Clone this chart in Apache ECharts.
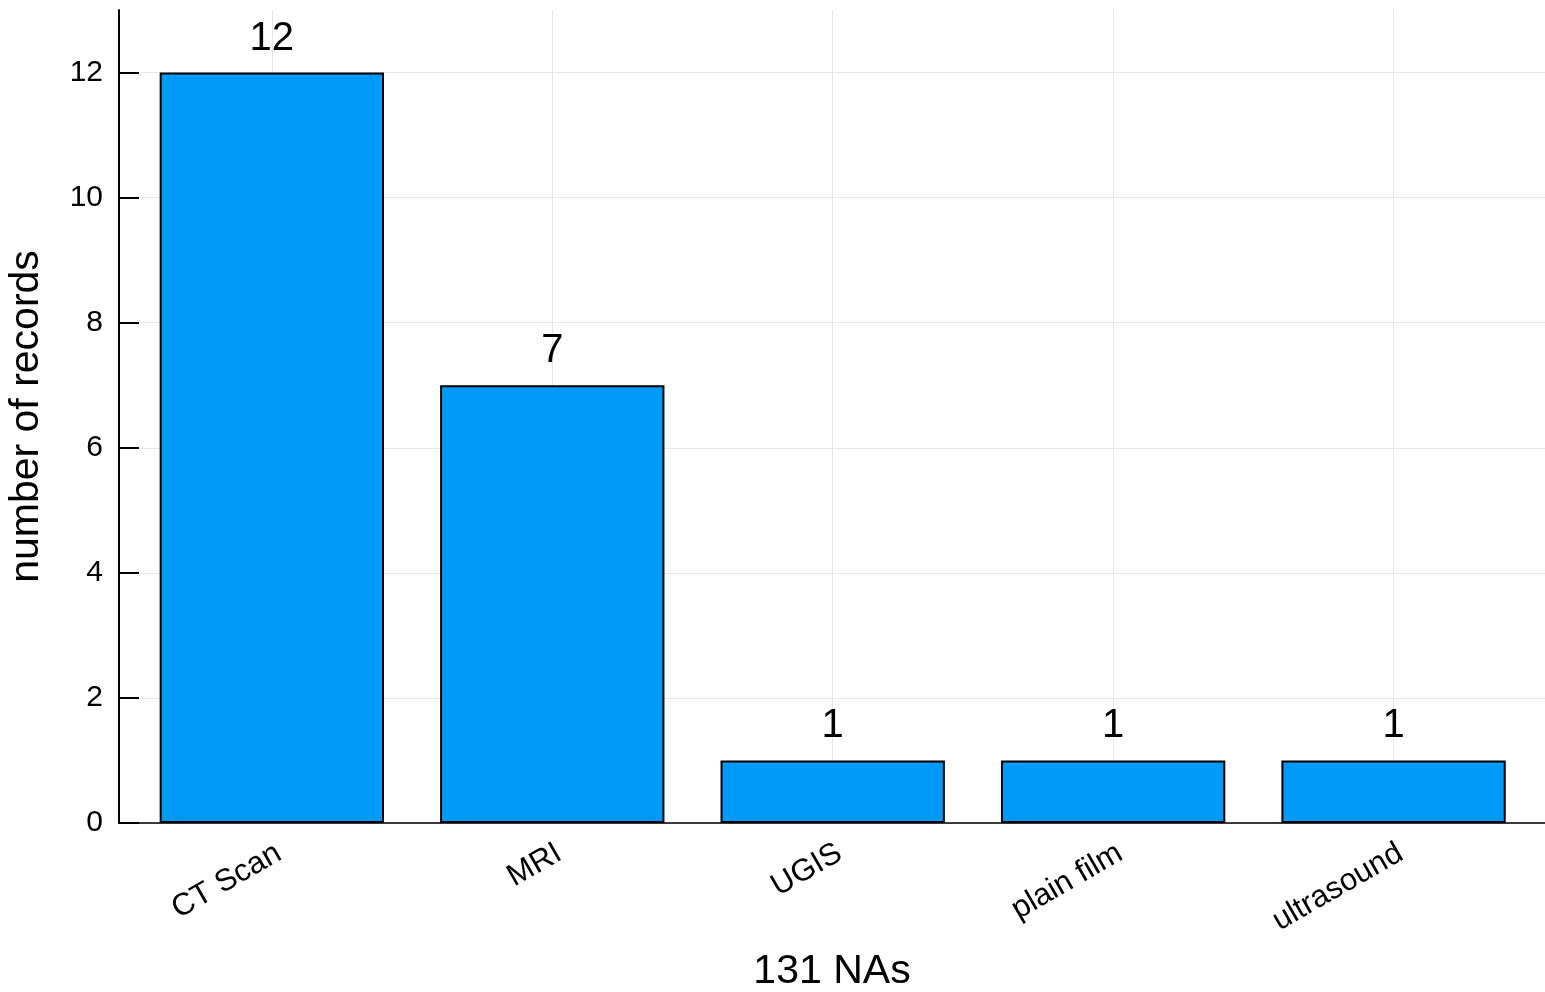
<!DOCTYPE html>
<html>
<head>
<meta charset="utf-8">
<script src="https://cdn.jsdelivr.net/npm/echarts@6/dist/echarts.min.js"></script>
<style>
html,body{margin:0;padding:0;background:#fff;}
#chart{width:1545px;height:992px;}
</style>
</head>
<body>
<div id="chart"></div>
<script>
const categories = ["CT Scan", "MRI", "UGIS", "plain film", "ultrasound"];
const counts = [12, 7, 1, 1, 1];
const yTicks = [0, 2, 4, 6, 8, 10, 12];
const xTitle = "131 NAs";
const yTitle = "number of records";

const FONT = "'Liberation Sans', Arial, Helvetica, sans-serif";
const idx = categories.map((_, i) => i);
const labelShift = 0.025;

const chart = echarts.init(document.getElementById('chart'), null, {renderer: 'canvas'});
chart.setOption({
  animation: false,
  backgroundColor: '#ffffff',
  textStyle: {fontFamily: FONT},
  grid: {left: 119, right: 0, top: 10, bottom: 169, containLabel: false, outerBoundsMode: 'none'},
  xAxis: {
    type: 'value',
    min: -0.545,
    max: 4.54,
    axisLine: {show: true, onZero: false, lineStyle: {color: '#000', width: 1.5}},
    axisTick: {show: false, customValues: idx},
    splitLine: {show: true, lineStyle: {color: '#e6e6e6', width: 1}},
    axisLabel: {
      customValues: idx.map(i => i + labelShift),
      formatter: v => categories[Math.round(v - labelShift)],
      rotate: 30,
      margin: 28,
      fontSize: 31,
      color: '#000',
      fontFamily: FONT
    },
    name: xTitle,
    nameLocation: 'middle',
    nameGap: 128,
    nameTextStyle: {fontSize: 41, color: '#000', fontFamily: FONT}
  },
  yAxis: {
    type: 'value',
    min: 0,
    max: 13,
    axisLine: {show: true, onZero: false, lineStyle: {color: '#000', width: 2}},
    axisTick: {show: true, inside: true, length: 20, customValues: yTicks, lineStyle: {color: '#000', width: 2}},
    splitLine: {show: true, lineStyle: {color: '#e6e6e6', width: 1}},
    axisLabel: {customValues: yTicks, margin: 16, fontSize: 30, color: '#000', fontFamily: FONT},
    name: yTitle,
    nameLocation: 'middle',
    nameGap: 72,
    nameTextStyle: {fontSize: 41, color: '#000', fontFamily: FONT}
  },
  series: [{
    type: 'bar',
    data: counts.map((v, i) => [i, v]),
    barWidth: '80%',
    itemStyle: {color: '#009AF9', borderColor: '#000', borderWidth: 2},
    label: {show: true, position: 'top', distance: 14, fontSize: 40, color: '#000', fontFamily: FONT}
  }]
});
</script>
</body>
</html>
